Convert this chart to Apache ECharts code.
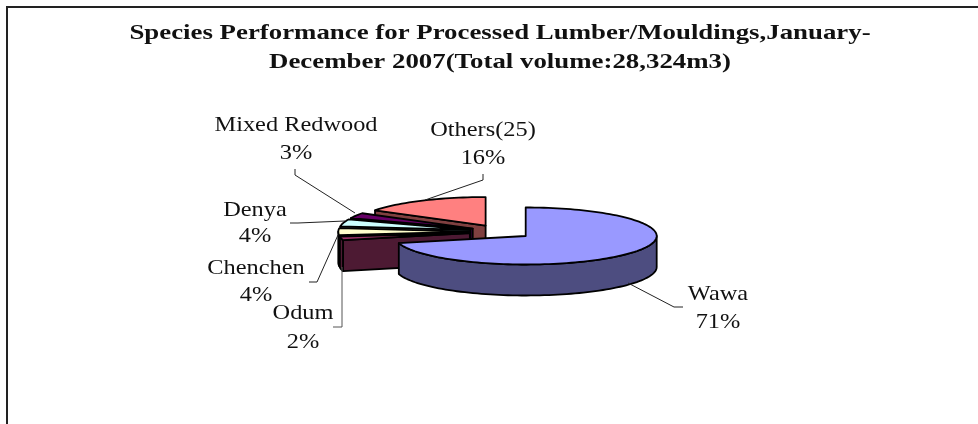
<!DOCTYPE html>
<html><head><meta charset="utf-8">
<style>html,body{margin:0;padding:0;background:#fff}#c{width:978px;height:424px}</style>
<script src="https://cdn.jsdelivr.net/npm/echarts@6/dist/echarts.min.js"></script>
</head><body><div id="c"></div>
<script>
const titleLines = ['Species Performance for Processed Lumber/Mouldings,January-', 'December 2007(Total volume:28,324m3)'];
const categories = ['Wawa', 'Odum', 'Chenchen', 'Denya', 'Mixed Redwood', 'Others(25)'];
const values = [71, 2, 4, 4, 3, 16];
const topColors = ['#9999FF', '#993366', '#FFFFCC', '#CCFFFF', '#660066', '#FF8080'];
const wallColors = ['#4D4D80', '#4D1A33', '#808066', '#668080', '#330033', '#804040'];

// pie layout
const PIE = {cx: 500.8, cy: 231.7, rx: 131, ry: 28.5, depth: 31, ex: 31.5, ey: 7};
const total = values.reduce((a, b) => a + b, 0);
const rad = d => d * Math.PI / 180;
let run = 0;
const slices = values.map((v, i) => {
  const a0 = run; run += v / total * 360;
  return {i, a0, a1: run};
});
function ringPoint(c, a, dy) {
  return [c[0] + PIE.rx * Math.sin(rad(a)), c[1] - PIE.ry * Math.cos(rad(a)) + (dy || 0)];
}
function arc(c, a0, a1, dy) {
  const n = Math.max(2, Math.ceil(Math.abs(a1 - a0) / 2));
  const pts = [];
  for (let k = 0; k <= n; k++) pts.push(ringPoint(c, a0 + (a1 - a0) * k / n, dy));
  return pts;
}
function centerOf(s) {
  const m = rad((s.a0 + s.a1) / 2);
  return [PIE.cx + PIE.ex * Math.sin(m), PIE.cy - PIE.ey * Math.cos(m)];
}
const lineStyle = {stroke: '#000', lineWidth: 1.8, lineJoin: 'round'};
function poly(points, fill, z) {
  return {type: 'polygon', shape: {points}, style: Object.assign({fill}, lineStyle), z2: z};
}
function sliceParts(s, z) {
  const c = centerOf(s), d = PIE.depth, parts = [];
  const wall = wallColors[s.i], top = topColors[s.i];
  // radial faces that turn towards the viewer
  const radial = a => {
    const p = ringPoint(c, a);
    parts.push(poly([c, p, [p[0], p[1] + d], [c[0], c[1] + d]], wall, z));
  };
  if (Math.sin(rad(s.a0)) < -0.001) radial(s.a0);
  if (Math.sin(rad(s.a1)) > 0.001) radial(s.a1);
  // outer wall, front half only
  const lo = Math.max(s.a0, 90), hi = Math.min(s.a1, 270);
  if (hi > lo) {
    parts.push(poly(arc(c, lo, hi).concat(arc(c, hi, lo, d)), wall, z + 1));
  }
  parts.push(poly([c].concat(arc(c, s.a0, s.a1)), top, z + 2));
  return parts;
}
// back to front
const paintOrder = [5, 4, 3, 2, 1, 0];

// label layout: text centre x, first line y, second line y, leader polyline
const labelLayout = {
  Wawa: {x: 718, y: 294, y2: 322, line: [[628, 283], [674, 307], [683, 307]], color: '#222'},
  Odum: {x: 303, y: 313, y2: 342, line: [[342, 267], [342, 327], [333, 327]], color: '#555'},
  Chenchen: {x: 256, y: 268, y2: 295, line: [[338, 235], [317, 282], [309, 282]], color: '#222'},
  Denya: {x: 255, y: 210, y2: 236, line: [[345, 221], [298, 223], [290, 223]], color: '#222'},
  'Mixed Redwood': {x: 296, y: 125, y2: 153, line: [[355, 213], [295, 175], [295, 169]], color: '#222'},
  'Others(25)': {x: 483, y: 130, y2: 158, line: [[425, 200], [483, 180], [483, 174]], color: '#222'}
};
const FONT = '"Liberation Serif","Times New Roman",serif';
function txt(text, x, y, size, weight, sx) {
  return {type: 'text', x, y, scaleX: sx, originX: 0, originY: 0, z2: 50, silent: true,
    style: {text, x: 0, y: 0, fill: '#111', font: `${weight} ${size}px ${FONT}`, align: 'center', verticalAlign: 'middle'}};
}

function renderItem(params) {
  if (params.dataIndex !== 0) return {type: 'group', children: []};
  const children = [];
  // frame
  children.push({type: 'polyline', shape: {points: [[7, 424], [7, 7], [978, 7]]}, style: {stroke: '#222', lineWidth: 2, fill: null}, z2: 0});
  paintOrder.forEach((idx, n) => { children.push(...sliceParts(slices[idx], 10 + n * 3)); });
  categories.forEach((name, i) => {
    const L = labelLayout[name];
    children.push({type: 'polyline', shape: {points: L.line}, style: {stroke: L.color, lineWidth: 1, fill: null}, z2: 40});
    children.push(txt(name, L.x, L.y, 21, 'normal', 1.16));
    children.push(txt(Math.round(values[i] / total * 100) + '%', L.x, L.y2, 21, 'normal', 1.16));
  });
  children.push(txt(titleLines[0], 500, 33, 22, 'bold', 1.22));
  children.push(txt(titleLines[1], 500, 62, 22, 'bold', 1.22));
  return {type: 'group', children};
}

const chart = echarts.init(document.getElementById('c'), null, {renderer: 'canvas'});
chart.setOption({
  animation: false,
  backgroundColor: '#fff',
  series: [{
    type: 'custom',
    coordinateSystem: 'none',
    renderItem,
    silent: true,
    data: values.map((v, i) => ({name: categories[i], value: [v, i]}))
  }]
});
</script></body></html>
